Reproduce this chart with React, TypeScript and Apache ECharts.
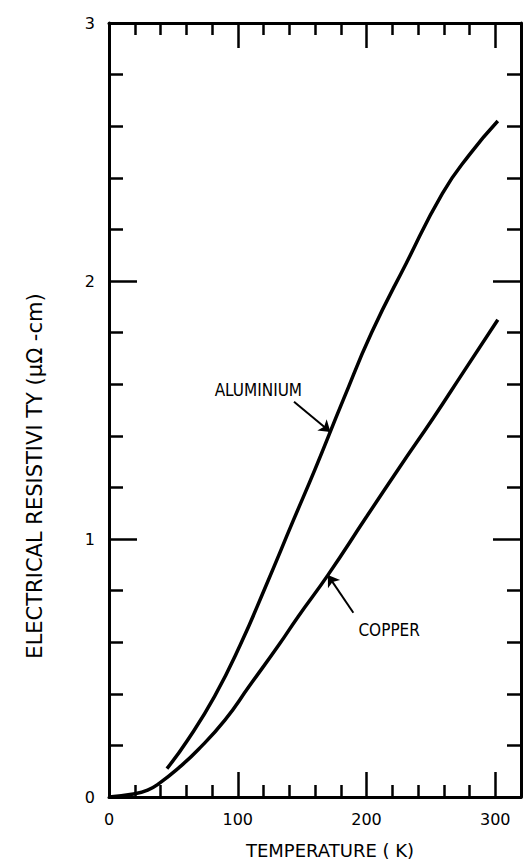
import React, { useEffect, useRef } from "react";
import * as echarts from "echarts";

// Temperature (K) and resistivity (µΩ·cm)
const alTemp = [45, 61, 82, 102, 122, 143, 160, 182, 204, 231, 259, 280, 302];
const alRho = [0.11, 0.22, 0.39, 0.59, 0.82, 1.07, 1.27, 1.54, 1.8, 2.07, 2.34, 2.49, 2.62];

const cuTemp = [0, 19, 30, 39, 55, 69, 90, 109, 132, 147, 170, 200, 226, 252, 275, 302];
const cuRho = [0, 0.012, 0.027, 0.053, 0.117, 0.182, 0.298, 0.43, 0.59, 0.7, 0.86, 1.086, 1.28, 1.47, 1.645, 1.85];

// Annotation anchors in data units: [T, rho]
const alLabelAt = [116, 1.578];
const alArrowFrom = [143.7, 1.532];
const alArrowTo = [172, 1.415];
const cuLabelAt = [217.6, 0.647];
const cuArrowFrom = [189.8, 0.714];
const cuArrowTo = [170, 0.86];

const xTicks = { min: 0, max: 320, interval: 100 };
const yTicks = { min: 0, max: 3, interval: 1 };

const SANS = "'DejaVu Sans', sans-serif";
const NARROW = "'DejaVu Sans Condensed', 'DejaVu Sans', sans-serif";

const zip = (xs: number[], ys: number[]) => xs.map((x, i) => [x, ys[i]]);

function axisCommon(showLabels: boolean, majorLen: number, minorLen: number, hideAbove?: number) {
  return {
    type: "value" as const,
    axisLine: { show: true, onZero: false, lineStyle: { color: "#000", width: 3 } },
    axisTick: { show: true, inside: true, length: majorLen, lineStyle: { color: "#000", width: 2.5 } },
    minorTick: { show: true, splitNumber: 5, length: minorLen, lineStyle: { color: "#000", width: 2.5 } },
    splitLine: { show: false },
    minorSplitLine: { show: false },
    axisLabel: {
      show: showLabels,
      color: "#000",
      fontFamily: SANS,
      fontSize: 16,
      margin: 14,
      formatter: (v: number) => (hideAbove !== undefined && v > hideAbove ? "" : String(v)),
    },
  };
}

function annotation(from: number[], to: number[], at: number[], text: string) {
  return {
    markLine: {
      silent: true,
      animation: false,
      symbol: ["none", "arrow"],
      symbolSize: 11,
      label: { show: false },
      lineStyle: { color: "#000", width: 2, type: "solid" },
      emphasis: { disabled: true },
      data: [[{ coord: from }, { coord: to }]],
    },
    markPoint: {
      silent: true,
      animation: false,
      symbol: "circle",
      symbolSize: 0,
      label: {
        show: true,
        position: "inside",
        color: "#000",
        fontFamily: NARROW,
        fontSize: 17,
        formatter: text,
      },
      data: [{ coord: at, value: 0 }],
    },
  };
}

export default function App() {
  const ref = useRef<HTMLDivElement>(null);

  useEffect(() => {
    if (!ref.current) return;
    const chart = echarts.init(ref.current, null, { renderer: "svg" });
    chart.setOption({
      animation: false,
      backgroundColor: "#fff",
      grid: { left: 109, right: 3, top: 23, bottom: 68, containLabel: false },
      xAxis: [
        { ...axisCommon(true, 25, 12, 300), position: "bottom", ...xTicks },
        { ...axisCommon(false, 25, 12), position: "top", ...xTicks },
      ],
      yAxis: [
        { ...axisCommon(true, 28, 14), position: "left", ...yTicks },
        { ...axisCommon(false, 28, 14), position: "right", ...yTicks },
      ],
      graphic: [
        {
          type: "text",
          x: 330,
          y: 850,
          style: {
            text: "TEMPERATURE ( K)",
            font: `18px ${SANS}`,
            fill: "#000",
            textAlign: "center",
            textVerticalAlign: "middle",
          },
        },
        {
          type: "text",
          x: 35,
          y: 476,
          rotation: Math.PI / 2,
          style: {
            text: "ELECTRICAL RESISTIVI TY (μΩ -cm)",
            font: `21px ${SANS}`,
            fill: "#000",
            textAlign: "center",
            textVerticalAlign: "middle",
          },
        },
      ],
      series: [
        {
          name: "ALUMINIUM",
          type: "line",
          data: zip(alTemp, alRho),
          smooth: 0.5,
          showSymbol: false,
          symbol: "none",
          lineStyle: { color: "#000", width: 3.5 },
          ...annotation(alArrowFrom, alArrowTo, alLabelAt, "ALUMINIUM"),
        },
        {
          name: "COPPER",
          type: "line",
          data: zip(cuTemp, cuRho),
          smooth: 0.5,
          showSymbol: false,
          symbol: "none",
          lineStyle: { color: "#000", width: 3.5 },
          ...annotation(cuArrowFrom, cuArrowTo, cuLabelAt, "COPPER"),
        },
      ],
    });
    return () => chart.dispose();
  }, []);

  return (
    <div
      ref={ref}
      style={{ position: "absolute", left: 0, top: 0, width: 524, height: 865 }}
    />
  );
}
